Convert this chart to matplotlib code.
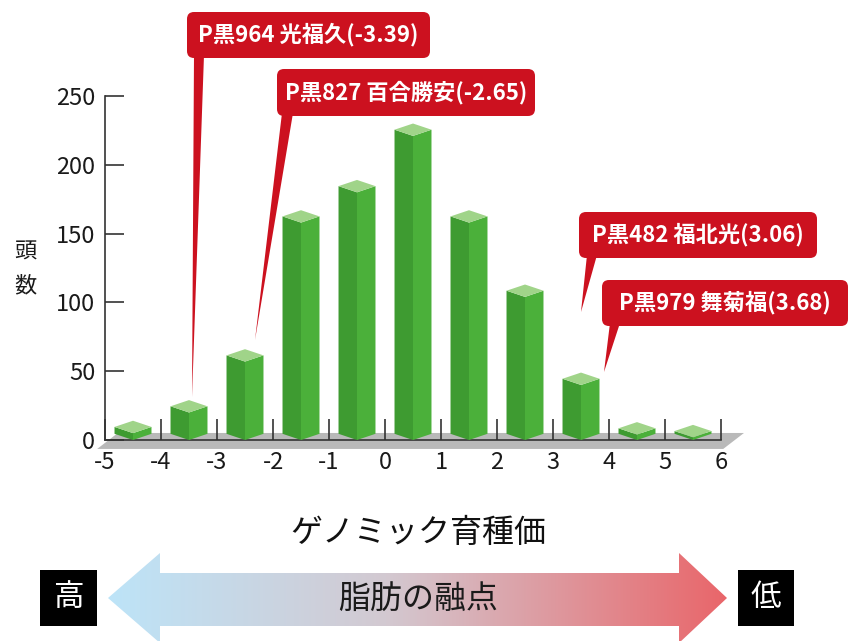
import numpy as np
import matplotlib
matplotlib.use('Agg')
import matplotlib.pyplot as plt
from matplotlib.patches import Polygon, FancyBboxPatch, Rectangle
from matplotlib.colors import LinearSegmentedColormap

plt.rcParams['font.family'] = ['Noto Sans CJK JP', 'DejaVu Sans']
plt.rcParams['axes.unicode_minus'] = False

# ---------------- data ----------------
bin_centers = [-4.5, -3.5, -2.5, -1.5, -0.5, 0.5, 1.5, 2.5, 3.5, 4.5, 5.5]
counts = [5, 20, 57, 158, 180, 221, 158, 104, 40, 4, 2]
x_ticks = [-5, -4, -3, -2, -1, 0, 1, 2, 3, 4, 5, 6]
y_ticks = [0, 50, 100, 150, 200, 250]
y_label = "頭数"
x_label = "ゲノミック育種価"
arrow_label = "脂肪の融点"
left_label = "高"
right_label = "低"
callout_texts = ["P黒964 光福久(-3.39)", "P黒827 百合勝安(-2.65)",
                 "P黒482 福北光(3.06)", "P黒979 舞菊福(3.68)"]

# ---------------- layout / style ----------------
W, H = 851, 641
fig = plt.figure(figsize=(W / 100, H / 100), dpi=100)
ax = fig.add_axes([105 / W, (H - 440) / H, 616 / W, 344 / H])
ax.set_xlim(-5, 6)
ax.set_ylim(0, 250)

C_LEFT = '#3e9b31'
C_RIGHT = '#4bb03a'
C_TOP = '#a0d489'
C_FLOOR = '#b9b9b9'
C_RED = '#cc111f'
AX_C = '#333333'

# floor (pseudo 3D)
floor = Polygon([(-5.14, -6.5), (6.04, -6.5), (6.41, 5.1), (-4.77, 5.1)],
                closed=True, facecolor=C_FLOOR, edgecolor='none',
                clip_on=False, zorder=0.5)
ax.add_patch(floor)

# 3D-ish bars
w = 0.33
d = 4.5
for c, h in zip(bin_centers, counts):
    left = [(c - w, d), (c, 0), (c, h), (c - w, h + d)]
    right = [(c, 0), (c + w, d), (c + w, h + d), (c, h)]
    top = [(c - w, h + d), (c, h), (c + w, h + d), (c, h + 2 * d)]
    for pts, col in ((left, C_LEFT), (right, C_RIGHT), (top, C_TOP)):
        ax.add_patch(Polygon(pts, closed=True, facecolor=col, edgecolor='none',
                             clip_on=False, zorder=3))

for s in ('top', 'right'):
    ax.spines[s].set_visible(False)
for s in ('left', 'bottom'):
    ax.spines[s].set_color(AX_C)
    ax.spines[s].set_linewidth(1.2)
ax.set_xticks(x_ticks)
ax.set_yticks(y_ticks)
ax.tick_params(axis='y', direction='in', length=13.7, width=1.2, color=AX_C,
               pad=7, labelsize=17, labelcolor='#1a1a1a')
ax.tick_params(axis='x', direction='in', length=15, width=1.2, color=AX_C,
               pad=8, labelsize=17, labelcolor='#1a1a1a')
ax.patch.set_alpha(0)

# ---------------- overlay in pixel coords ----------------
oax = fig.add_axes([0, 0, 1, 1], zorder=5)
oax.set_xlim(0, W)
oax.set_ylim(H, 0)
oax.axis('off')

# y label (stacked vertical)
for i, ch in enumerate(y_label):
    oax.text(25, 252 + 34 * i, ch, fontsize=16, ha='center', va='center',
             color='#1a1a1a')

# x label
oax.text(418, 533, x_label, fontsize=23, ha='center', va='center', color='#111111')

# gradient double arrow
arrow_pts = [(108, 598), (160, 553), (160, 573), (679, 573), (679, 553),
             (727, 598), (679, 643), (679, 626), (160, 626), (160, 643)]
arrow_poly = Polygon(arrow_pts, closed=True, facecolor='none', edgecolor='none')
oax.add_patch(arrow_poly)
cmap = LinearSegmentedColormap.from_list(
    'fat', [(0, '#bde4f8'), (0.45, '#d3c9d1'), (1, '#e9666a')])
grad = np.linspace(0, 1, 512).reshape(1, -1)
im = oax.imshow(grad, extent=[108, 727, 643, 553], cmap=cmap, aspect='auto',
                interpolation='bilinear')
im.set_clip_path(arrow_poly)
oax.set_xlim(0, W)
oax.set_ylim(H, 0)
oax.text(418, 599, arrow_label, fontsize=23, ha='center', va='center',
         color='#1a1a1a')

# black label boxes
for (x0, x1), lab in (((40, 97), left_label), ((738, 794), right_label)):
    oax.add_patch(Rectangle((x0, 570), x1 - x0, 56, facecolor='black',
                            edgecolor='none'))
    oax.text((x0 + x1) / 2, 598, lab, fontsize=22, color='white',
             ha='center', va='center')

# callouts: box (x0, y0, x1, y1), tail base (xl, xr), tail tip (x, y)
boxes = [(187, 12, 430, 58), (277, 69, 535, 116),
         (579, 212, 817, 258), (602, 280, 848, 326)]
tails = [((194, 204), (192, 397)), ((282, 293), (255, 340)),
         ((587, 597), (581, 312)), ((610, 620), (604, 372))]
for (x0, y0, x1, y1), ((bl, br), tip), txt in zip(boxes, tails, callout_texts):
    oax.add_patch(Polygon([(bl, y1 - 3), (br, y1 - 3), tip], closed=True,
                          facecolor=C_RED, edgecolor='none'))
    oax.add_patch(FancyBboxPatch((x0, y0), x1 - x0, y1 - y0,
                                 boxstyle='round,pad=0,rounding_size=7',
                                 facecolor=C_RED, edgecolor='none'))
    oax.text((x0 + x1) / 2, (y0 + y1) / 2, txt, fontsize=16, fontweight='bold',
             color='white', ha='center', va='center')

fig.savefig('out.png', dpi=100)
